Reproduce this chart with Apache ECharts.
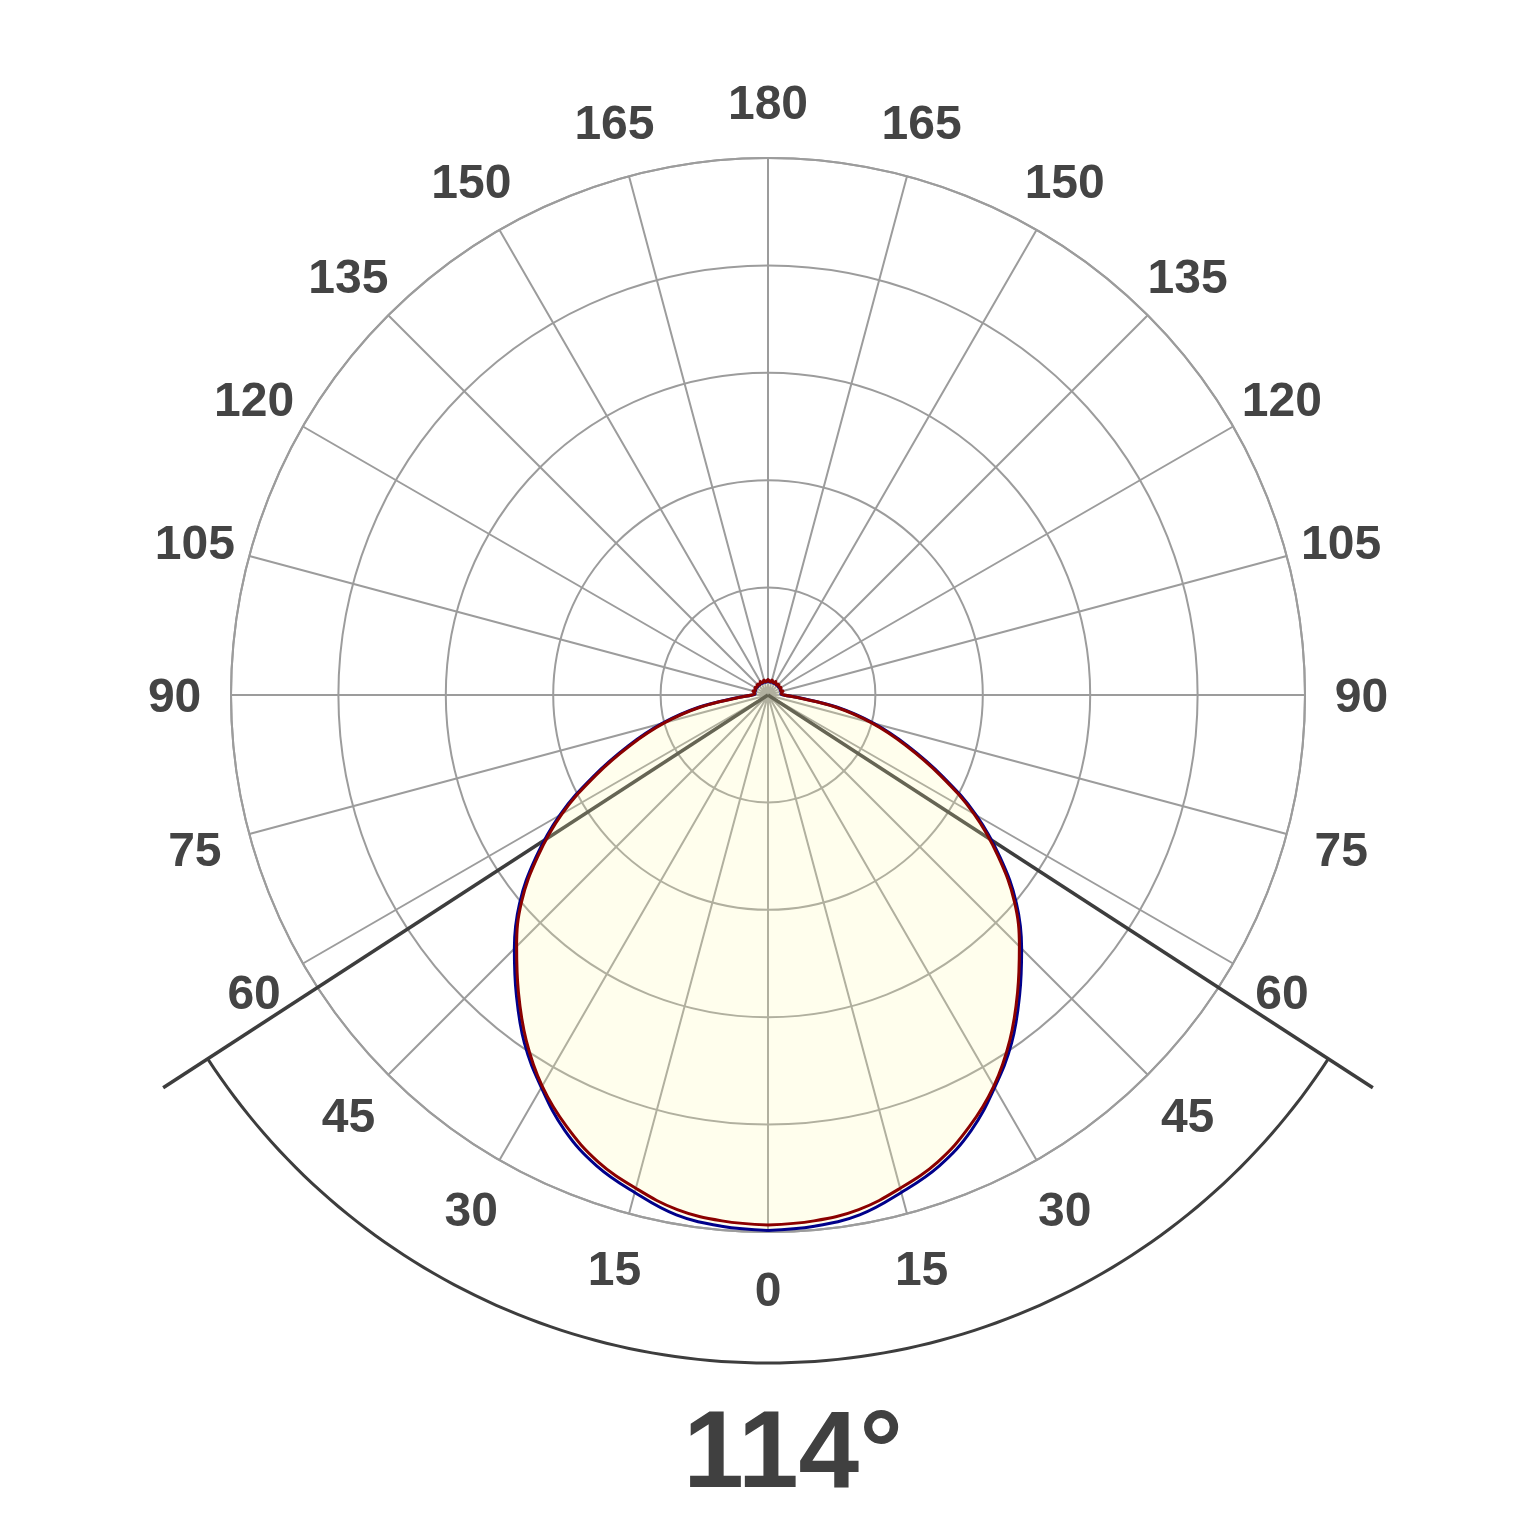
<!DOCTYPE html>
<html>
<head>
<meta charset="utf-8">
<script src="https://cdn.jsdelivr.net/npm/echarts@6/dist/echarts.min.js"></script>
<style>html,body{margin:0;padding:0;background:#fff}#c{width:1536px;height:1536px}</style>
</head>
<body>
<div id="c"></div>
<script>
// Half profile angles (degrees from nadir), mirrored for the other side
const halfAngles = [0,5,10,15,20,25,30,35,40,45,50,55,60,65,70,75,80,85,90,95,100,105,110,115,120,125,130,135,140,145,150,155,160,165,170,175,180];
const redHalf = [98.7,98.3,97.3,95.1,92.5,88.7,84.1,78.5,72.3,66.2,59.9,52.3,44.3,35.4,27.2,19.9,12.6,5.5,3.0,2.5,2.6,2.9,2.5,2.6,2.9,2.5,2.6,2.9,2.5,2.6,2.9,2.5,2.6,2.9,2.5,2.6,2.9];
const blueHalf = [99.7,99.3,98.3,95.9,93.3,89.5,84.4,79.1,72.9,66.8,60.4,52.8,44.8,35.9,27.7,20.4,13.1,5.8,2.9,2.4,2.5,2.8,2.4,2.5,2.8,2.4,2.5,2.8,2.4,2.5,2.8,2.4,2.5,2.8,2.4,2.5,2.8];
const angleTicks = [0,15,30,45,60,75,90,105,120,135,150,165,180,195,210,225,240,255,270,285,300,315,330,345];
const angleTickLabels = ['0','15','30','45','60','75','90','105','120','135','150','165','180','165','150','135','120','105','90','75','60','45','30','15'];
const beamAngle = 114;
const beamLabel = '114°';
const beamLineRadius = 134.3;
const beamArcRadius = 124.4;
const labelRadius = 110.5;

function fullCurve(half) {
  const out = [];
  for (let i = 0; i < halfAngles.length; i++) out.push([half[i], halfAngles[i]]);
  for (let i = halfAngles.length - 2; i >= 0; i--) out.push([half[i], 360 - halfAngles[i]]);
  return out;
}

const gridColor = '#9c9c9c';
const chart = echarts.init(document.getElementById('c'), null, {renderer: 'canvas'});
chart.setOption({
  animation: false,
  backgroundColor: '#ffffff',
  polar: {center: [768, 695], radius: 537},
  angleAxis: {
    type: 'value', min: 0, max: 360, interval: 15, startAngle: 270, clockwise: true,
    axisLine: {show: true, lineStyle: {color: gridColor, width: 2}},
    axisTick: {show: false},
    axisLabel: {show: false},
    splitLine: {show: true, lineStyle: {color: gridColor, width: 2}}
  },
  radiusAxis: {
    type: 'value', min: 0, max: 100, interval: 20,
    axisLine: {show: false}, axisTick: {show: false}, axisLabel: {show: false},
    splitLine: {show: true, lineStyle: {color: gridColor, width: 2}}
  },
  graphic: [{
    type: 'text', x: 793, y: 1457,
    style: {text: beamLabel, fontSize: 109, fontWeight: 'bold', fontFamily: 'Liberation Sans', fill: '#404040', align: 'center', verticalAlign: 'middle'}
  }],
  series: [
    {
      type: 'custom', coordinateSystem: 'polar', z: 1, silent: true, clip: false,
      data: [[0, 0]],
      renderItem: function (params, api) {
        const half = beamAngle / 2;
        const c = api.coord([0, 0]);
        const l = api.coord([beamLineRadius, half]);
        const r = api.coord([beamLineRadius, 360 - half]);
        const pts = [];
        for (let a = -half; a <= half + 1e-9; a += 1) pts.push(api.coord([beamArcRadius, (a + 360) % 360]));
        const st = {stroke: '#3d3d3d', lineWidth: 3.5, fill: null};
        return {type: 'group', children: [
          {type: 'line', shape: {x1: c[0], y1: c[1], x2: l[0], y2: l[1]}, style: st},
          {type: 'line', shape: {x1: c[0], y1: c[1], x2: r[0], y2: r[1]}, style: st},
          {type: 'polyline', shape: {points: pts}, style: {stroke: '#3d3d3d', lineWidth: 3, fill: null}}
        ]};
      }
    },
    {
      type: 'line', coordinateSystem: 'polar', z: 2, silent: true, symbol: 'none', smooth: 0.4,
      data: fullCurve(blueHalf),
      lineStyle: {color: '#00008b', width: 3},
      areaStyle: {color: 'rgba(255,248,172,0.3)'}
    },
    {
      type: 'line', coordinateSystem: 'polar', z: 3, silent: true, symbol: 'none', smooth: 0.4,
      data: fullCurve(redHalf),
      lineStyle: {color: '#8b0000', width: 3}
    },
    {
      type: 'custom', coordinateSystem: 'polar', z: 4, silent: true, clip: false,
      data: angleTicks.map(a => [labelRadius, a]),
      renderItem: function (params, api) {
        const p = api.coord([api.value(0), api.value(1)]);
        return {type: 'text', x: p[0], y: p[1] + 4,
          style: {text: angleTickLabels[params.dataIndex], fontSize: 48, fontWeight: 'bold', fontFamily: 'Liberation Sans', fill: '#444444', align: 'center', verticalAlign: 'middle'}};
      }
    }
  ]
});
</script>
</body>
</html>
